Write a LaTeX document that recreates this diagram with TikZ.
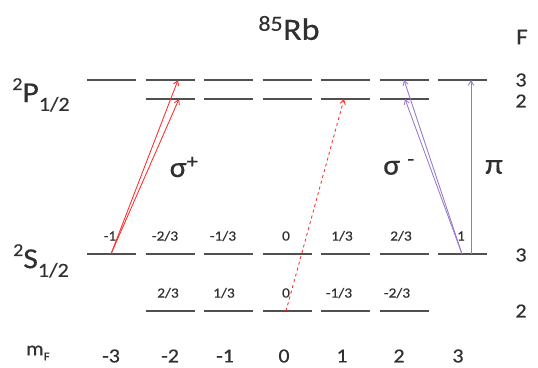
\documentclass[tikz,border=0pt]{standalone}
\usepackage{fontspec}
\setmainfont{Carlito}[FakeStretch=1.1, FakeBold=0.4]
\usetikzlibrary{arrows.meta}
\definecolor{txt}{HTML}{303030}
\definecolor{lvl}{HTML}{505050}
\definecolor{redA}{HTML}{FF2A2A}
\definecolor{purA}{HTML}{9878CC}
\tikzset{
  levelbar/.style={draw=lvl, line width=2.2pt},
  small/.style={text=txt, inner sep=0pt, font=\fontsize{14}{14}\selectfont},
  mid/.style={text=txt, inner sep=0pt, font=\fontsize{20}{20}\selectfont},
  big/.style={text=txt, inner sep=0pt, font=\fontsize{29}{29}\selectfont},
  trans/.style={line width=0.85pt, -{Straight Barb[length=4.5pt,width=5.5pt]}},
  redtr/.style={trans, draw=redA},
  purtr/.style={trans, draw=purA},
}
\begin{document}
\begin{tikzpicture}[x=1pt,y=-1pt]
\useasboundingbox (0,0) rectangle (538,367);
% levels
\foreach \i in {0,...,6} {
  \draw[levelbar] ({87+58.5*\i},80) -- ({136+58.5*\i},80);
  \draw[levelbar] ({87+58.5*\i},254) -- ({136+58.5*\i},254);
}
\foreach \i in {1,...,5} {
  \draw[levelbar] ({87+58.5*\i},99) -- ({136+58.5*\i},99);
  \draw[levelbar] ({87+58.5*\i},311) -- ({136+58.5*\i},311);
}
% titles
\node[big, font=\fontsize{31}{31}\selectfont] (title) at (289,28) {\textsuperscript{85}Rb};
\node[mid, font=\fontsize{23}{23}\selectfont] (Fhead) at (522,37) {F};
\node[mid] (FP3) at (521,80) {3};
\node[mid] (FP2) at (521,101) {2};
\node[mid] (FS3) at (521,255) {3};
\node[mid] (FS2) at (521,311) {2};
\node[big] (Plab) at (41,95) {\raisebox{0.42em}{\fontsize{18}{18}\selectfont 2}P\raisebox{-0.3em}{\fontsize{20}{20}\selectfont 1/2}};
\node[big] (Slab) at (41,261) {\raisebox{0.42em}{\fontsize{18}{18}\selectfont 2}S\raisebox{-0.3em}{\fontsize{20}{20}\selectfont 1/2}};
% m_F row
\node[mid] (mF) at (38,353) {m\raisebox{-0.25em}{\fontsize{12}{12}\selectfont F}};
\foreach \v/\x [count=\k] in {-3/111,-2/170,-1/225,0/284,1/342,2/399,3/458} {
  \node[mid] (mf\k) at (\x,356) {\v};
}
% g-factor labels
\foreach \v/\x [count=\k] in {-1/110,-2\slash 3/165,-1\slash 3/223,0/286,1\slash 3/342,2\slash 3/401,1/461} {
  \node[small] (gu\k) at (\x,236) {\v};
}
\foreach \v/\x [count=\k] in {2\slash 3/168,1\slash 3/224,0/286,-1\slash 3/339,-2\slash 3/397} {
  \node[small] (gl\k) at (\x,293) {\v};
}
% polarisation labels
\node[big] (sp) at (184,167) {σ\textsuperscript{+}};
\node[big] (sm) at (399,167) {σ \textsuperscript{-}};
\node[big] (pi) at (494,167) {π};
% transition points
\coordinate (sA) at (111,254);
\coordinate (tA1) at (178,80);
\coordinate (tA2) at (179,99);
\coordinate (sD) at (286,311);
\coordinate (tD) at (344,99);
\coordinate (sB) at (462,254);
\coordinate (tB1) at (404,80);
\coordinate (tB2) at (405,99);
\coordinate (sC) at (471,254);
\coordinate (tC) at (471,80);
\draw[redtr] (sA) -- (tA1);
\draw[redtr] (sA) -- (tA2);
\draw[redtr, dashed] (sD) -- (tD);
\draw[purtr] (sB) -- (tB1);
\draw[purtr] (sB) -- (tB2);
\draw[purtr] (sC) -- (tC);
\end{tikzpicture}
\end{document}
